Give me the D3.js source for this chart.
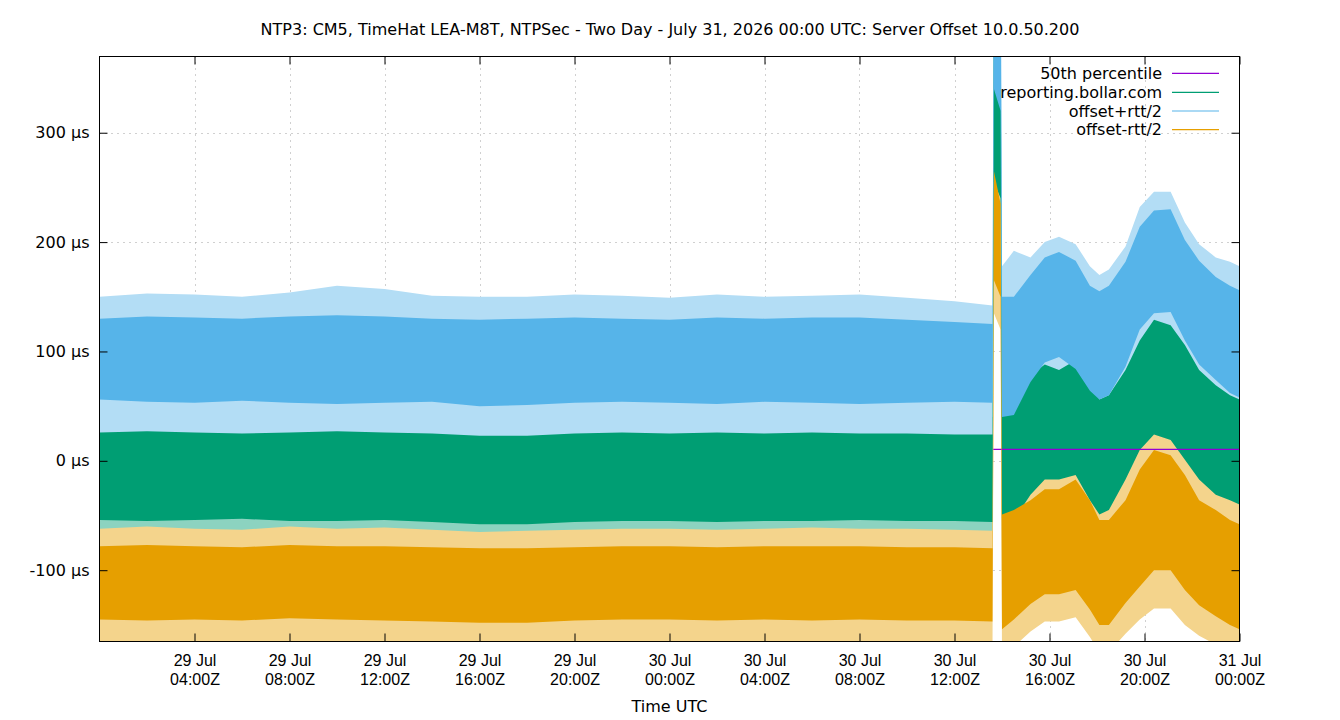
<!DOCTYPE html>
<html>
<head>
<meta charset="utf-8">
<script src="https://cdn.jsdelivr.net/npm/d3@7"></script>
<style>
  html, body { margin: 0; padding: 0; background: #fff; }
  svg { display: block; font-family: "DejaVu Sans", sans-serif; }
</style>
</head>
<body>
<svg id="chart" width="1340" height="720"></svg>
<script>
// ---------------- data ----------------
const titleText = "NTP3: CM5, TimeHat LEA-M8T, NTPSec - Two Day - July 31, 2026 00:00 UTC: Server Offset 10.0.50.200";
const xAxisTitle = "Time UTC";
const seriesNames = ["50th percentile", "reporting.bollar.com", "offset+rtt/2", "offset-rtt/2"];
const seriesColors = ["#9400d3", "#009e73", "#56b4e9", "#e69f00"];
const spreadColors = ["#8cd3c0", "#b3ddf5", "#f4d48c"]; // lighter tints for the sparse spread

// sample times: hours after 29 Jul 2026 00:00 UTC
const hours = [0, 2, 4, 6, 8, 10, 12, 14, 16, 18, 20, 22, 24, 26, 28, 30, 32, 34, 36, 37.6,
  37.66, 37.94,
  38.0, 38.5, 39.2, 39.8, 40.4, 41.1, 41.7, 42.1, 42.5, 43.2, 43.8, 44.4, 45.1, 45.7, 46.3, 47.0, 47.6, 48.0];

// offset+rtt/2 (µs): sparse extremes and dense band
const blueMax = [150,153,152,150,154,160,157,151,150,150,152,151,149,152,150,151,152,149,146,142,
  520,520,
  178,192,186,200,205,198,178,170,175,196,232,246,246,218,198,186,182,178];
const blueHi = [130,132,131,130,132,133,132,130,129,130,131,130,129,131,130,131,131,129,127,125,
  500,500,
  150,150,170,186,191,183,160,155,160,182,214,229,230,202,183,168,160,156];
const blueLo = [56,54,53,55,53,52,53,54,50,51,53,54,53,52,54,53,52,53,54,53,
  340,320,
  40,42,72,90,95,84,64,56,60,86,120,135,136,110,88,74,62,58];
const blueMin = [18,15,14,16,12,14,15,13,10,12,14,15,13,12,15,14,13,14,15,14,
  310,290,
  8,10,40,58,62,52,32,24,28,54,88,103,104,78,56,42,30,26];

// reporting.bollar.com offset (µs)
const greenMax = [42,43,42,41,42,43,42,41,40,40,41,42,41,42,41,42,41,41,40,40,
  480,470,
  76,80,98,108,103,112,94,76,80,103,130,149,144,126,103,89,80,76];
const greenHi = [26,27,26,25,26,27,26,25,23,23,25,26,25,26,25,26,25,25,24,24,
  440,420,
  56,60,78,88,83,92,74,56,60,83,110,129,124,106,83,69,60,56];
const greenLo = [-54,-55,-54,-53,-55,-55,-54,-56,-58,-58,-56,-55,-55,-56,-55,-55,-54,-55,-55,-56,
  255,240,
  -58,-54,-31,-17,-17,-13,-36,-49,-45,-17,10,24,19,1,-17,-31,-36,-40];
const greenMin = [-80,-82,-80,-79,-81,-82,-80,-82,-85,-84,-82,-81,-80,-82,-81,-80,-80,-81,-80,-82,
  225,210,
  -88,-84,-61,-47,-47,-43,-66,-79,-75,-47,-20,-6,-11,-29,-47,-61,-66,-70];

// offset-rtt/2 (µs)
const orangeMax = [-62,-60,-62,-63,-60,-62,-61,-63,-65,-64,-63,-62,-62,-63,-62,-61,-62,-62,-63,-64,
  285,250,
  -29,-25,-16,-6,-6,3,-16,-34,-34,-16,12,30,25,7,-16,-25,-34,-38];
const orangeHi = [-78,-77,-78,-79,-77,-78,-78,-79,-80,-80,-79,-78,-78,-79,-78,-78,-78,-79,-79,-80,
  265,235,
  -49,-45,-36,-26,-26,-17,-36,-54,-54,-36,-8,10,5,-13,-36,-45,-54,-58];
const orangeLo = [-145,-146,-145,-146,-144,-145,-146,-147,-148,-148,-146,-145,-145,-146,-145,-146,-145,-146,-146,-147,
  165,150,
  -154,-145,-131,-122,-122,-118,-136,-150,-150,-130,-115,-100,-100,-118,-132,-142,-150,-154];
const orangeMin = [-172,-173,-172,-173,-171,-172,-173,-174,-175,-175,-173,-172,-172,-173,-172,-173,-172,-173,-173,-174,
  135,120,
  -179,-170,-156,-147,-147,-143,-161,-175,-175,-158,-145,-135,-135,-150,-160,-168,-175,-179];

// 50th percentile line
const pctHours = [37.63, 48];
const pctValues = [10.4, 10.4];

// axes
const xTickHours = [4, 8, 12, 16, 20, 24, 28, 32, 36, 40, 44, 48];
const yTicks = [-100, 0, 100, 200, 300];
const yDomain = [-165.2, 369.7];

// ---------------- drawing ----------------
const svg = d3.select("#chart");
const W = 1340, H = 720;
const L = 99.5, R = 1239.5, T = 56.5, B = 641.5;
const FS = "16px";

svg.append("rect").attr("width", W).attr("height", H).attr("fill", "#fff");

const t0 = Date.UTC(2026, 6, 29, 0, 0, 0);
const toDate = h => new Date(t0 + h * 3600e3);
const x = d3.scaleUtc().domain([toDate(0), toDate(48)]).range([L, R]);
const y = d3.scaleLinear().domain(yDomain).range([B, T]);

svg.append("defs").append("clipPath").attr("id", "plotclip")
  .append("rect").attr("x", L).attr("y", T).attr("width", R - L).attr("height", B - T);

// grid
const grid = svg.append("g").attr("stroke", "#a0a0a0").attr("stroke-width", 1).attr("stroke-dasharray", "1,5");
grid.selectAll("line.gx").data(xTickHours.filter(h => h < 48)).join("line")
  .attr("x1", d => Math.round(x(toDate(d))) + 0.5).attr("x2", d => Math.round(x(toDate(d))) + 0.5)
  .attr("y1", T).attr("y2", B);
grid.selectAll("line.gy").data(yTicks).join("line")
  .attr("y1", d => Math.round(y(d)) + 0.5).attr("y2", d => Math.round(y(d)) + 0.5)
  .attr("x1", L).attr("x2", R);

const plot = svg.append("g").attr("clip-path", "url(#plotclip)");

const rows = hours.map((h, i) => ({ h, i }));
function band(lo, hi) {
  return d3.area()
    .x(d => x(toDate(d.h)))
    .y0(d => y(lo[d.i]))
    .y1(d => y(hi[d.i]))
    .curve(d3.curveLinear)(rows);
}

// sparse outer spread first (light), then the dense bands in plotting order
const series = [
  { c: seriesColors[1], t: spreadColors[0], mn: greenMin, lo: greenLo, hi: greenHi, mx: greenMax },
  { c: seriesColors[2], t: spreadColors[1], mn: blueMin, lo: blueLo, hi: blueHi, mx: blueMax },
  { c: seriesColors[3], t: spreadColors[2], mn: orangeMin, lo: orangeLo, hi: orangeHi, mx: orangeMax }
];
series.forEach(s => {
  plot.append("path").attr("d", band(s.mn, s.mx)).attr("fill", s.t);
});
plot.append("path").attr("d", band(series[0].lo, series[0].hi)).attr("fill", series[0].c);
plot.append("path")
  .attr("d", d3.line().x((d, i) => x(toDate(pctHours[i]))).y(d => y(d))(pctValues))
  .attr("fill", "none").attr("stroke", seriesColors[0]).attr("stroke-width", 1.2);
plot.append("path").attr("d", band(series[1].lo, series[1].hi)).attr("fill", series[1].c);
plot.append("path").attr("d", band(series[2].lo, series[2].hi)).attr("fill", series[2].c);

// axes (inward ticks, mirrored)
const fmtDay = d3.utcFormat("%-d %b");
const fmtHour = d3.utcFormat("%H:%MZ");
const xAxis = d3.axisBottom(x).tickValues(xTickHours.map(toDate)).tickSize(-8).tickPadding(0).tickFormat("");
const gx = svg.append("g").attr("transform", `translate(0,${B})`).call(xAxis);
gx.select(".domain").remove();
gx.selectAll(".tick line").attr("stroke", "#000");
gx.selectAll(".tick").append("text")
  .attr("fill", "#000").attr("text-anchor", "middle").style("font-size", FS)
  .each(function(d) {
    const t = d3.select(this);
    t.append("tspan").attr("x", 0).attr("y", 24.5).text(fmtDay(d));
    t.append("tspan").attr("x", 0).attr("y", 43).text(fmtHour(d));
  });
const xTop = d3.axisTop(x).tickValues(xTickHours.map(toDate)).tickSize(-8).tickFormat("");
const gxt = svg.append("g").attr("transform", `translate(0,${T})`).call(xTop);
gxt.select(".domain").remove();
gxt.selectAll(".tick line").attr("stroke", "#000");

const yAxis = d3.axisLeft(y).tickValues(yTicks).tickSize(-8).tickPadding(10).tickFormat(d => d + " µs");
const gy = svg.append("g").attr("transform", `translate(${L},0)`).call(yAxis);
gy.select(".domain").remove();
gy.selectAll(".tick line").attr("stroke", "#000");
gy.selectAll(".tick text").attr("fill", "#000").style("font-size", FS).style("font-family", "DejaVu Sans, sans-serif");
const yRight = d3.axisRight(y).tickValues(yTicks).tickSize(-8).tickFormat("");
const gyr = svg.append("g").attr("transform", `translate(${R},0)`).call(yRight);
gyr.select(".domain").remove();
gyr.selectAll(".tick line").attr("stroke", "#000");

// border
svg.append("rect").attr("x", L).attr("y", T).attr("width", R - L).attr("height", B - T)
  .attr("fill", "none").attr("stroke", "#000").attr("stroke-width", 1);

// titles
svg.append("text").attr("x", 670).attr("y", 35).attr("text-anchor", "middle")
  .style("font-size", FS).attr("fill", "#000").text(titleText);
svg.append("text").attr("x", (L + R) / 2).attr("y", 712).attr("text-anchor", "middle")
  .style("font-size", FS).attr("fill", "#000").text(xAxisTitle);

// legend
const legendY = [73.3, 92.3, 111, 129.6];
const lg = svg.append("g");
seriesNames.forEach((name, i) => {
  lg.append("text").attr("x", 1162).attr("y", legendY[i]).attr("dy", "0.35em")
    .attr("text-anchor", "end").style("font-size", FS).attr("fill", "#000").text(name);
  lg.append("line").attr("x1", 1172).attr("x2", 1219).attr("y1", legendY[i]).attr("y2", legendY[i])
    .attr("stroke", seriesColors[i]).attr("stroke-width", 1.2);
});
</script>
</body>
</html>
